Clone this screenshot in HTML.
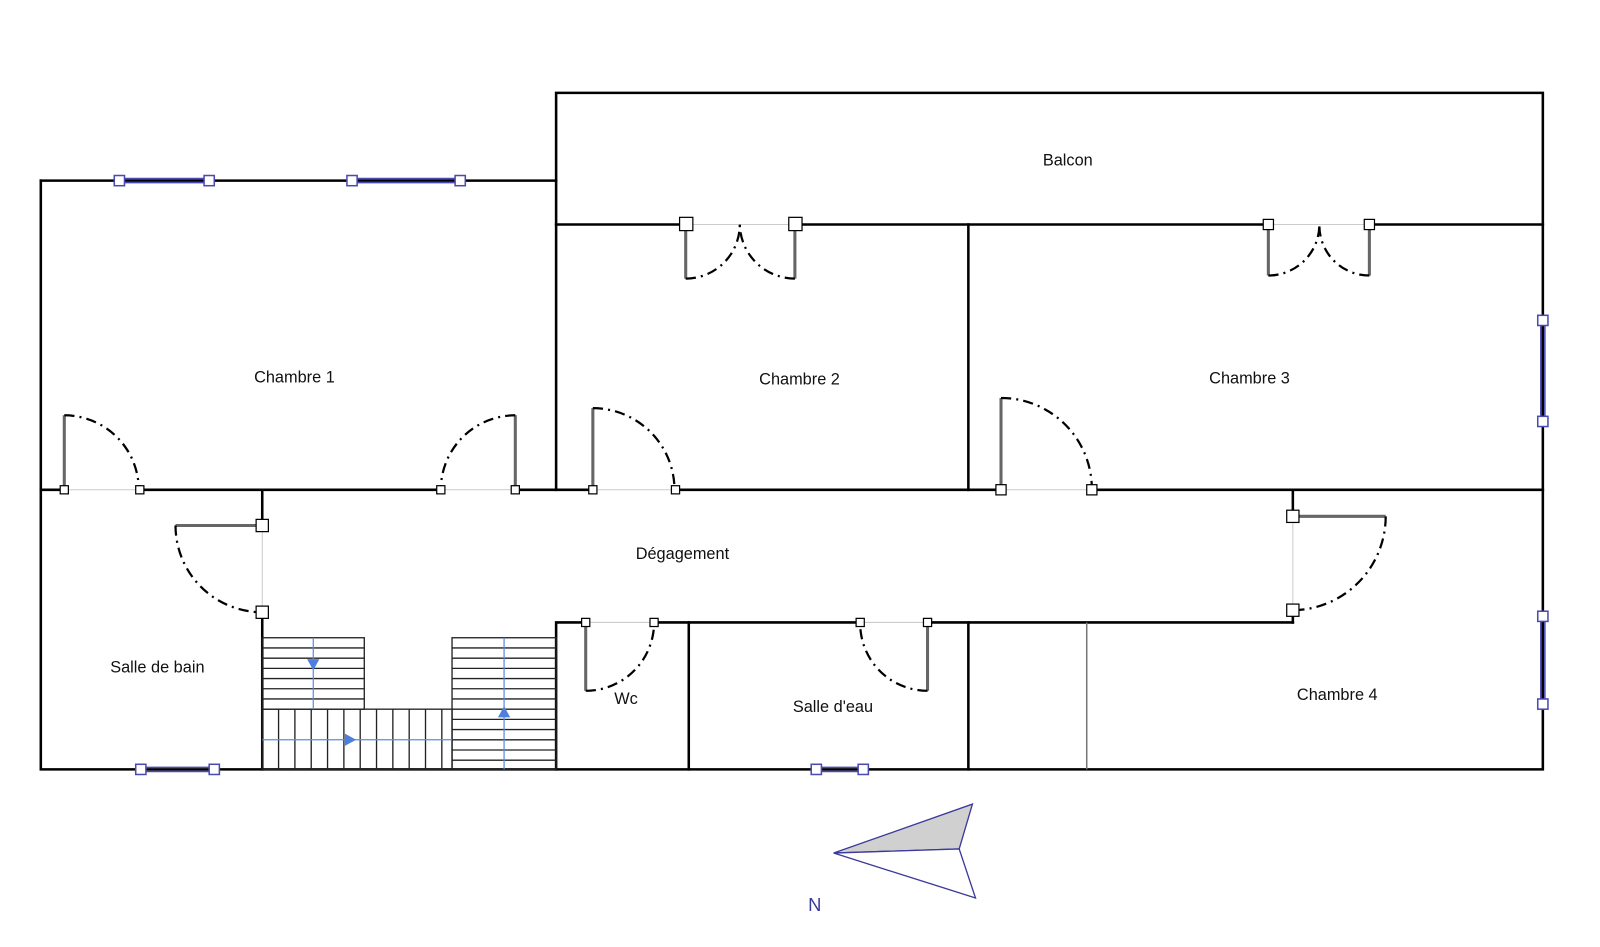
<!DOCTYPE html>
<html><head><meta charset="utf-8"><style>html,body{margin:0;padding:0;background:#fff}svg{display:block}text{font-family:"Liberation Sans",sans-serif;font-size:16px;fill:#111}</style></head><body>
<svg width="1600" height="947" viewBox="0 0 1600 947" xmlns="http://www.w3.org/2000/svg">
<g transform="scale(1.0204)">
<g stroke="#ccc" stroke-width="1">
<line x1="63" y1="480" x2="137" y2="480"/><line x1="432" y1="480" x2="505" y2="480"/><line x1="581" y1="480" x2="662" y2="480"/><line x1="981" y1="480" x2="1070" y2="480"/>
<line x1="257" y1="515" x2="257" y2="600"/><line x1="1267" y1="506" x2="1267" y2="598"/><line x1="574" y1="610" x2="641" y2="610"/><line x1="843" y1="610" x2="909" y2="610"/>
<line x1="672" y1="220" x2="779" y2="220"/><line x1="1243" y1="220" x2="1342" y2="220"/>
</g>
<g stroke="#000" stroke-width="2.5" fill="none" stroke-linecap="square">
<path d="M40 177V754H1512V91H545V480"/>
<path d="M40 177H545"/>
<path d="M545 220H672M779 220H1243M1342 220H1512"/>
<path d="M949 220V480"/>
<path d="M40 480H63M137 480H432M505 480H581M662 480H981M1070 480H1512"/>
<path d="M257 480V515M257 600V754"/>
<path d="M1267 480V506M1267 598V610"/>
<path d="M545 754V610H574M641 610H843M909 610H1267"/>
<path d="M675 610V754M949 610V754"/>
</g>
<line x1="1065" y1="610" x2="1065" y2="754" stroke="#777" stroke-width="1.5"/>
<g stroke="#4a4ab0" stroke-width="1.5" fill="#fff">
<path d="M117 175H205M117 179H205M345 175H451M345 179H451M138 752H210M138 756H210M800 752H846M800 756H846M1510 314V413M1514 314V413M1510 604V690M1514 604V690" fill="none"/>
<rect x="112" y="172" width="10" height="10"/><rect x="200" y="172" width="10" height="10"/><rect x="340" y="172" width="10" height="10"/><rect x="446" y="172" width="10" height="10"/>
<rect x="133" y="749" width="10" height="10"/><rect x="205" y="749" width="10" height="10"/><rect x="795" y="749" width="10" height="10"/><rect x="841" y="749" width="10" height="10"/>
<rect x="1507" y="309" width="10" height="10"/><rect x="1507" y="408" width="10" height="10"/><rect x="1507" y="599" width="10" height="10"/><rect x="1507" y="685" width="10" height="10"/>
</g>
<g stroke="#222" stroke-width="1.3" fill="none">
<rect x="257" y="625" width="100" height="70"/>
<path d="M257 635H357M257 645H357M257 655H357M257 665H357M257 675H357M257 685H357"/>
<rect x="257" y="695" width="186" height="59"/>
<path d="M273 695V754M289 695V754M305 695V754M321 695V754M337 695V754M353 695V754M369 695V754M385 695V754M401 695V754M417 695V754M433 695V754"/>
<rect x="443" y="625" width="102" height="129"/>
<path d="M443 635H545M443 645H545M443 655H545M443 665H545M443 675H545M443 685H545M443 695H545M443 705H545M443 715H545M443 725H545M443 735H545M443 745H545"/>
</g>
<g stroke="#5b8be0" stroke-width="1.2" fill="#4f7fde">
<line x1="307" y1="625" x2="307" y2="695"/><line x1="257" y1="725" x2="443" y2="725"/><line x1="494" y1="625" x2="494" y2="754"/>
<path d="M301 646H313L307 657Z" stroke="none"/><path d="M338 719V731L349 725Z" stroke="none"/><path d="M488 703H500L494 692Z" stroke="none"/>
</g>
<g stroke="#666" stroke-width="3" fill="none">
<path d="M63 480V407M505 480V407M581 480V400M981 480V390M257 515H172M1267 506H1358M574 610V677M909 610V677M672 220V273M779 220V273M1243 220V270M1342 220V270"/>
</g>
<g stroke="#000" stroke-width="2.2" fill="none" stroke-dasharray="10 5 2 5">
<path d="M63 407A73 73 0 0 1 136 480"/>
<path d="M505 407A73 73 0 0 0 432 480"/>
<path d="M581 400A80 80 0 0 1 661 480"/>
<path d="M981 390A89 89 0 0 1 1070 480"/>
<path d="M172 515A85 85 0 0 0 257 600"/>
<path d="M1358 506A92 92 0 0 1 1267 598"/>
<path d="M574 677A67 67 0 0 0 641 610"/>
<path d="M909 677A66 66 0 0 1 843 610"/>
<path d="M672 273A53 53 0 0 0 725 220"/>
<path d="M779 273A54 54 0 0 1 725 220"/>
<path d="M1243 270A50 50 0 0 0 1293 220"/>
<path d="M1342 270A49 49 0 0 1 1293 220"/>
</g>
<g stroke="#000" stroke-width="1.2" fill="#fff">
<rect x="59" y="476" width="8" height="8"/><rect x="133" y="476" width="8" height="8"/><rect x="428" y="476" width="8" height="8"/><rect x="501" y="476" width="8" height="8"/>
<rect x="577" y="476" width="8" height="8"/><rect x="658" y="476" width="8" height="8"/><rect x="976" y="475" width="10" height="10"/><rect x="1065" y="475" width="10" height="10"/>
<rect x="251" y="509" width="12" height="12"/><rect x="251" y="594" width="12" height="12"/><rect x="1261" y="500" width="12" height="12"/><rect x="1261" y="592" width="12" height="12"/>
<rect x="570" y="606" width="8" height="8"/><rect x="637" y="606" width="8" height="8"/><rect x="839" y="606" width="8" height="8"/><rect x="905" y="606" width="8" height="8"/>
<rect x="666" y="213" width="13" height="13"/><rect x="773" y="213" width="13" height="13"/><rect x="1238" y="215" width="10" height="10"/><rect x="1337" y="215" width="10" height="10"/>
</g>
<polygon points="817,836 953,788 940,832" fill="#d0d0d0" stroke="#3a3a9a" stroke-width="1.3"/>
<polygon points="817,836 940,832 956,880" fill="#fff" stroke="#3a3a9a" stroke-width="1.3"/>
<text x="792" y="893" style="fill:#3a3a9a;font-size:18px">N</text>
<text x="1022" y="162">Balcon</text>
<text x="249" y="375">Chambre 1</text>
<text x="744" y="377">Chambre 2</text>
<text x="1185" y="376">Chambre 3</text>
<text x="623" y="548">Dégagement</text>
<text x="108" y="659">Salle de bain</text>
<text x="602" y="690">Wc</text>
<text x="777" y="698">Salle d'eau</text>
<text x="1271" y="686">Chambre 4</text>
</g>
</svg>
</body></html>
